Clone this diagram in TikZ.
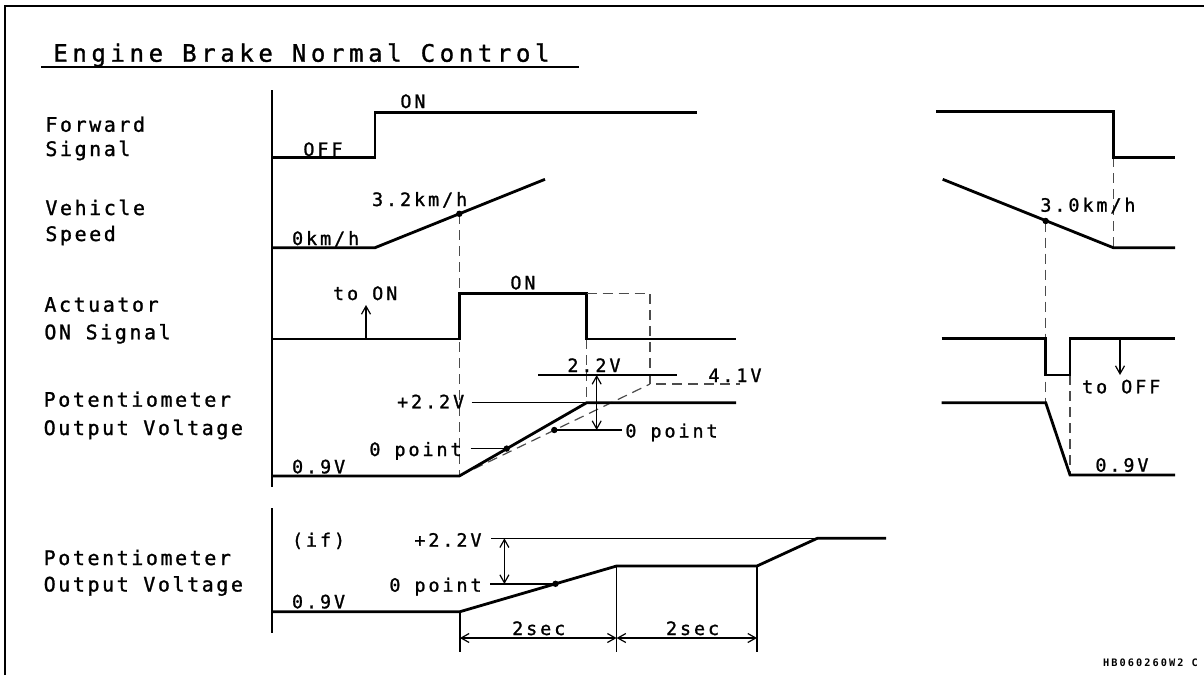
\documentclass[tikz,border=0pt]{standalone}
\usepackage{fontspec}
\usetikzlibrary{arrows.meta}
\newfontfamily\titlefnt[LetterSpace=19.2,FakeBold=1.2]{DejaVu Sans Mono}
\newfontfamily\lblfnt[LetterSpace=12.8,FakeBold=1.2]{DejaVu Sans Mono}
\newfontfamily\smfnt[LetterSpace=15.9,FakeBold=1.2]{DejaVu Sans Mono}
\newfontfamily\codefnt[LetterSpace=20]{DejaVu Sans Mono}
\begin{document}
\begin{tikzpicture}[x=0.5pt,y=-0.5pt,
  sig/.style={line width=1.4pt, line join=miter},
  thinl/.style={line width=0.6pt},
  dsh/.style={line width=0.6pt, dash pattern=on 5pt off 3pt, black!70},
  lbl/.style={anchor=base west, inner sep=0pt, font=\lblfnt\fontsize{10pt}{12pt}\selectfont},
  sm/.style={anchor=base west, inner sep=0pt, font=\smfnt\fontsize{9.2pt}{11pt}\selectfont},
  arr/.style={line width=0.6pt, -{Straight Barb[length=4pt,width=4.5pt]}},
  darr/.style={line width=0.6pt, {Straight Barb[length=4pt,width=4.5pt]}-{Straight Barb[length=4pt,width=4.5pt]}},
  pdot/.style={circle, fill, inner sep=0pt, minimum size=3.2pt}]
\useasboundingbox (0,0) rectangle (1204,675);
% frame
\draw[line width=1.25pt] (5,675) -- (5,6) -- (1204,6);
% title
\node[anchor=base west, inner sep=0pt, font=\titlefnt\fontsize{12pt}{14pt}\selectfont] (title) at (53,61.7) {Engine Brake Normal Control};
\draw[thinl] (41,67) -- (579,67);
% row labels
\node[lbl] (l1a) at (45,131.7) {Forward};
\node[lbl] (l1b) at (45,156) {Signal};
\node[lbl] (l2a) at (45,215) {Vehicle};
\node[lbl] (l2b) at (45,241) {Speed};
\node[lbl] (l3a) at (44,311.7) {Actuator};
\node[lbl] (l3b) at (44,339.3) {ON Signal};
\node[lbl] (l4a) at (43.3,406.7) {Potentiometer};
\node[lbl] (l4b) at (43.3,435) {Output Voltage};
\node[lbl] (l5a) at (43.3,565) {Potentiometer};
\node[lbl] (l5b) at (43.3,591.5) {Output Voltage};
% axes
\draw[line width=0.75pt] (272,90) -- (272,487);
\draw[line width=0.75pt] (272,508) -- (272,633);
% dashed guides
\draw[dsh] (459.3,214) -- (459.3,476);
\draw[dsh] (586.7,339) -- (586.7,402.7);
\draw[dsh] (1113.3,157.3) -- (1113.3,247.7);
\draw[dsh] (1045.7,221.7) -- (1045.7,402.7);
\draw[dsh] (1070,375) -- (1070,475);
% forward signal
\draw[sig] (272,157.7) -- (375,157.7) -- (375,112.3) -- (696.7,112.3);
\draw[sig] (936,111.7) -- (1113.3,111.7) -- (1113.3,157.3) -- (1175,157.3);
\node[sm] (on1) at (400,108) {ON};
\node[sm] (off1) at (303,156) {OFF};
% vehicle speed
\draw[sig] (272,247.7) -- (375,247.7) -- (545,179.3);
\draw[sig] (942.7,179.3) -- (1113.3,247.7) -- (1175,247.7);
\node[pdot] (d1) at (459.3,213.8) {};
\node[pdot] (d2) at (1045.7,221) {};
\node[sm] (v32) at (371.7,206) {3.2km/h};
\node[sm] (v0) at (291.7,245) {0km/h};
\node[sm] (v30) at (1040,211.7) {3.0km/h};
% actuator
\draw[sig] (272,339) -- (459.3,339) -- (459.3,293.3) -- (586.7,293.3) -- (586.7,339) -- (736,339);
\draw[dsh] (586.7,293.3) -- (650,293.3) -- (650,384) -- (740,384);
\draw[sig] (941.7,338.3) -- (1045.7,338.3) -- (1045.7,375) -- (1070,375) -- (1070,338.3) -- (1175,338.3);
\coordinate (ton0) at (366,339);
\coordinate (ton1) at (366,305);
\draw[arr] (ton0) -- (ton1);
\node[sm] (toon) at (332.7,300) {to ON};
\node[sm] (on2) at (510,289.3) {ON};
\coordinate (toff0) at (1120,338.3);
\coordinate (toff1) at (1120,375);
\draw[arr] (toff0) -- (toff1);
\node[sm] (tooff) at (1081.7,393.3) {to OFF};
% potentiometer
\draw[dsh] (459.3,476) -- (650,384);
\draw[thinl] (471.7,402.7) -- (586.7,402.7);
\draw[sig] (272,476) -- (459.3,476) -- (586.7,402.7) -- (736,402.7);
\draw[thinl] (538.3,375) -- (676.7,375);
\draw[darr] (596.7,375) -- (596.7,430);
\draw[thinl] (554.3,430) -- (621.7,430);
\draw[thinl] (470.7,448.6) -- (506.7,448.6);
\node[pdot] (d3) at (506.7,448.6) {};
\node[pdot] (d4) at (554.3,430) {};
\node[sm] (p22) at (396.7,408.3) {+2.2V};
\node[sm] (p0a) at (369,456) {0 point};
\node[sm] (p0b) at (625,437.5) {0 point};
\node[sm] (p09) at (291.7,473.3) {0.9V};
\node[sm] (pd22) at (567,372) {2.2V};
\node[sm] (p41) at (708,382) {4.1V};
\draw[sig] (941.7,402.7) -- (1045.7,402.7) -- (1070,475) -- (1175,475);
\node[sm] (p09r) at (1095,471.7) {0.9V};
% lower potentiometer (if)
\draw[thinl] (491,538.3) -- (817.3,538.3);
\draw[sig] (272,611.7) -- (459.9,611.7) -- (616.6,566) -- (757,566) -- (817.3,538.3) -- (886,538.3);
\draw[darr] (504.4,538.3) -- (504.4,584);
\draw[thinl] (490,584) -- (555.5,584);
\node[pdot] (d5) at (555.5,583.8) {};
\draw[thinl] (459.9,611.7) -- (459.9,651.7);
\draw[thinl] (616.6,566) -- (616.6,651.7);
\draw[thinl] (757,566) -- (757,651.7);
\coordinate (t0) at (459.9,638);
\coordinate (t1) at (616.6,638);
\coordinate (t2) at (757,638);
\draw[darr] (t0) -- (t1);
\draw[darr] (t1) -- (t2);
\node[sm] (qif) at (291.6,546.7) {(if)};
\node[sm] (q22) at (414,546.7) {+2.2V};
\node[sm] (q0) at (389,591.7) {0 point};
\node[sm] (q09) at (291.6,608.3) {0.9V};
\node[sm] (s1) at (511.8,635) {2sec};
\node[sm] (s2) at (665.6,635) {2sec};
% code
\node[anchor=base west, inner sep=0pt, font=\codefnt\bfseries\fontsize{5.14pt}{6pt}\selectfont] (code) at (1102.7,666.7) {HB060260W2 C};
\end{tikzpicture}
\end{document}
